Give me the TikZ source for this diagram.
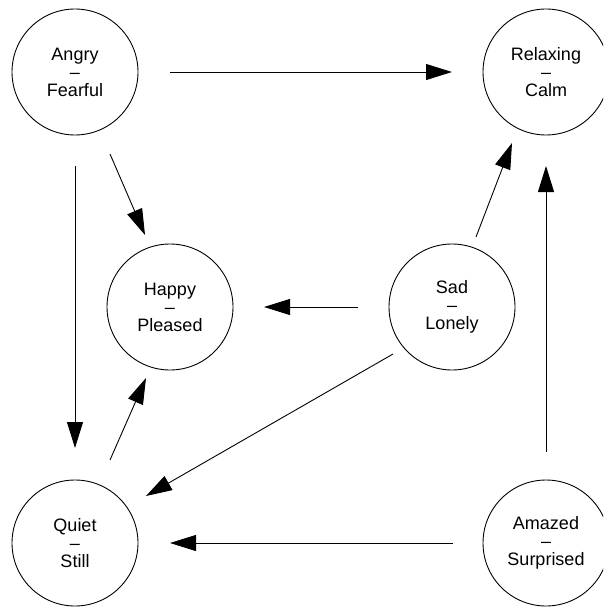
\documentclass[tikz,border=0pt]{standalone}
\usepackage{fontspec}
\setmainfont{Liberation Sans}
\usetikzlibrary{arrows.meta}
\begin{document}
\begin{tikzpicture}[x=1pt,y=-1pt,
  state/.style={circle,draw,line width=0.9pt,minimum size=126pt,inner sep=0pt,
    align=center,font=\fontsize{18}{18}\selectfont},
  arr/.style={line width=0.9pt,-{Triangle[length=26pt,width=16pt]}}]
\useasboundingbox (0,0) rectangle (603,607);
\clip (0,0) rectangle (603,607);
\node[state] (angry)  at (75,72)   {Angry\\–\\Fearful};
\node[state] (relax)  at (546,72)  {Relaxing\\–\\Calm};
\node[state] (happy)  at (170,307) {Happy\\–\\Pleased};
\node[state] (sad)    at (452,307) {Sad\\–\\Lonely};
\node[state] (quiet)  at (75,543)  {Quiet\\–\\Still};
\node[state] (amazed) at (546,543) {Amazed\\–\\Surprised};
\draw[arr] ([shift={(95,0)}]angry.center) -- ([shift={(-94,0)}]relax.center);
\draw[arr] ([shift={(0,94)}]angry.center) -- ([shift={(0,-95)}]quiet.center);
\draw[arr] ([shift={(35,82)}]angry.center) -- ([shift={(-25,-72)}]happy.center);
\draw[arr] ([shift={(-94,0)}]sad.center) -- ([shift={(94,0)}]happy.center);
\draw[arr] ([shift={(24,-70)}]sad.center) -- ([shift={(-34,71)}]relax.center);
\draw[arr] ([shift={(-59,47)}]sad.center) -- ([shift={(71,-47)}]quiet.center);
\draw[arr] ([shift={(35,-83)}]quiet.center) -- ([shift={(-24,71)}]happy.center);
\draw[arr] ([shift={(-93,0)}]amazed.center) -- ([shift={(95,0)}]quiet.center);
\draw[arr] ([shift={(0,-91)}]amazed.center) -- ([shift={(0,94)}]relax.center);
\end{tikzpicture}
\end{document}
